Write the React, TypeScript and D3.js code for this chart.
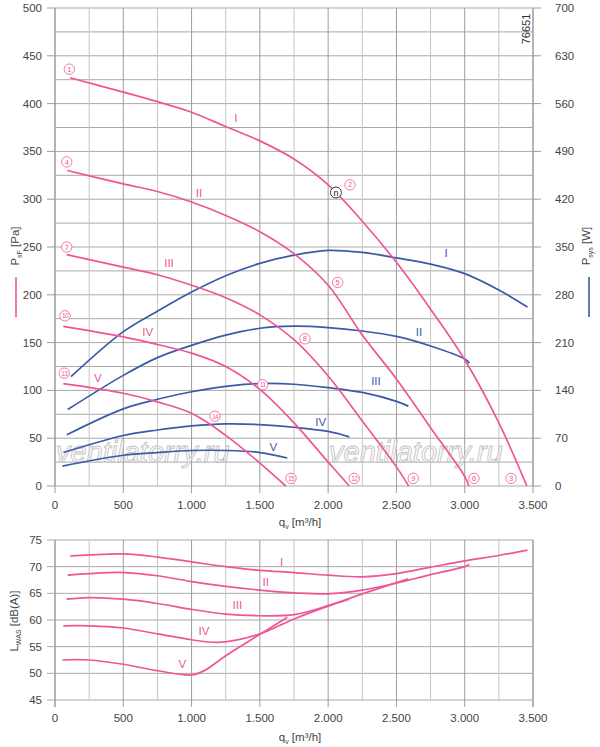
import React from 'react';
import * as d3 from 'd3';

// ---------- DATA ----------
const qTicks = [0, 500, 1000, 1500, 2000, 2500, 3000, 3500];
const pTicks = [0, 50, 100, 150, 200, 250, 300, 350, 400, 450, 500];
const wTicks = [0, 70, 140, 210, 280, 350, 420, 490, 560, 630, 700];
const lTicks = [45, 50, 55, 60, 65, 70, 75];

// pressure curves [q m3/h, Pa]
const pressureI = [[110, 427], [500, 412], [750, 402], [1000, 391], [1250, 376], [1500, 361], [1750, 342], [2000, 315], [2250, 277], [2500, 234], [2750, 185], [3000, 132], [3250, 66], [3455, 0]];
const pressureII = [[90, 330], [500, 316], [750, 308], [1000, 297], [1250, 283], [1500, 266], [1750, 243], [2000, 210], [2250, 158], [2500, 112], [2750, 61], [3000, 10], [3030, 0]];
const pressureIII = [[85, 242], [500, 229], [750, 221], [1000, 210], [1250, 197], [1500, 179], [1750, 153], [2000, 115], [2250, 68], [2500, 20], [2590, 0]];
const pressureIV = [[61, 167], [500, 156], [750, 148], [1000, 139], [1250, 125], [1500, 101], [1750, 66], [2000, 25], [2155, 0]];
const pressureV = [[61, 107], [500, 97], [750, 88], [1000, 76], [1250, 53], [1500, 24], [1690, 0]];

// power curves [q m3/h, W]
const powerI = [[117, 160], [500, 226], [750, 256], [1000, 284], [1250, 308], [1500, 326], [1750, 338], [2000, 345], [2250, 342], [2500, 334], [2750, 325], [3000, 311], [3250, 287], [3460, 262]];
const powerII = [[93, 112], [500, 162], [750, 188], [1000, 206], [1250, 221], [1500, 231], [1750, 234], [2000, 232], [2250, 227], [2500, 219], [2750, 205], [3000, 186], [3034, 180]];
const powerIII = [[86, 75], [500, 113], [750, 127], [1000, 138], [1250, 146], [1500, 150], [1750, 149], [2000, 144], [2250, 137], [2500, 124], [2587, 117]];
const powerIV = [[61, 49], [500, 74], [750, 82], [1000, 88], [1250, 91], [1500, 90], [1750, 86], [2000, 80], [2155, 72]];
const powerV = [[54, 29], [500, 45], [750, 49], [1000, 52], [1250, 52], [1500, 49], [1701, 41]];

// sound power curves [q m3/h, dB(A)]
const soundI = [[110, 72.0], [250, 72.2], [500, 72.4], [750, 71.8], [1000, 70.9], [1250, 70.0], [1500, 69.3], [1750, 68.9], [2000, 68.4], [2250, 68.1], [2500, 68.7], [2750, 69.9], [3000, 71.1], [3250, 72.1], [3460, 73.1]];
const soundII = [[93, 68.4], [250, 68.7], [500, 68.9], [750, 68.3], [1000, 67.2], [1250, 66.3], [1500, 65.6], [1750, 65.1], [2000, 64.9], [2250, 65.6], [2500, 66.9], [2750, 68.5], [3000, 70.0], [3034, 70.4]];
const soundIII = [[85, 63.9], [250, 64.2], [500, 63.9], [750, 63.1], [1000, 62.0], [1250, 61.1], [1500, 60.8], [1750, 61.0], [2000, 62.7], [2250, 64.9], [2500, 67.0], [2587, 67.7]];
const soundIV = [[61, 58.9], [250, 58.9], [500, 58.5], [750, 57.4], [1000, 56.3], [1200, 55.8], [1500, 57.4], [1750, 60.2], [2000, 62.6], [2155, 63.9]];
const soundV = [[54, 52.5], [250, 52.5], [500, 51.7], [750, 50.5], [1000, 49.7], [1100, 50.6], [1250, 53.3], [1500, 57.3], [1701, 60.5]];

// numbered operating point markers [number, q, Pa]
const markers = [[1, 105, 436], [2, 2160, 315], [3, 3339, 8], [4, 86, 339], [5, 2070, 213], [6, 3068, 8], [7, 86, 250], [8, 1830, 154], [9, 2623, 8], [10, 73, 178], [11, 1521, 106], [12, 2191, 8], [13, 68, 118], [14, 1171, 73], [15, 1728, 8]];

// roman curve labels [text, q, value]
const pressureLabels = [['I', 1325, 385], ['II', 1054, 307], ['III', 835, 233], ['IV', 679, 161], ['V', 313, 113]];
const powerLabels = [['I', 2863, 244], ['II', 2665, 161], ['III', 2350, 110], ['IV', 1945, 67], ['V', 1599, 41]];
const soundLabels = [['I', 1660, 70.9], ['II', 1543, 67.1], ['III', 1335, 62.8], ['IV', 1091, 57.9], ['V', 932, 51.75]];
const nPoint = [2057, 307];

const PINK = '#ef5597';
const BLUE = '#3a5ba6';
const TXT = '#444';
const FONT = "'Liberation Sans', Arial, Helvetica, sans-serif";

const fmtQ = (v: number) => (v >= 1000 ? `${Math.floor(v / 1000)}.${String(v % 1000).padStart(3, '0')}` : `${v}`);

export default function App() {
  const x = d3.scaleLinear().domain([0, 3500]).range([55, 533]);
  const yP = d3.scaleLinear().domain([0, 500]).range([486, 8]);
  const yW = d3.scaleLinear().domain([0, 700]).range([486, 8]);
  const yL = d3.scaleLinear().domain([45, 75]).range([700, 540]);

  const curve = d3.curveCatmullRom.alpha(0.5);
  const lineP = d3.line<number[]>().x((d) => x(d[0])).y((d) => yP(d[1])).curve(curve);
  const lineW = d3.line<number[]>().x((d) => x(d[0])).y((d) => yW(d[1])).curve(curve);
  const lineL = d3.line<number[]>().x((d) => x(d[0])).y((d) => yL(d[1])).curve(curve);

  const qGrid = d3.range(0, 3501, 250);
  const pGrid = d3.range(0, 501, 25);

  const vColor = (q: number) => (q % 500 === 0 ? '#9c9c9c' : '#c6c6c6');

  return (
    <svg width={600} height={747} style={{ position: 'absolute', left: 0, top: 0, background: '#fff' }} fontFamily={FONT}>
      <rect x={0} y={0} width={600} height={747} fill="#fff" />
      {/* ---------- TOP CHART GRID ---------- */}
      {pGrid.map((p) => (
        <line key={'hp' + p} x1={x(0)} x2={x(3500)} y1={yP(p)} y2={yP(p)} stroke="#a9a9a9" strokeWidth={1} />
      ))}
      {qGrid.map((q) => (
        <line key={'vq' + q} x1={x(q)} x2={x(q)} y1={yP(500)} y2={yP(0)} stroke={vColor(q)} strokeWidth={1} />
      ))}
      <line x1={x(0)} x2={x(0)} y1={yP(500)} y2={yP(0)} stroke="#9c9c9c" />
      <line x1={x(3500)} x2={x(3500)} y1={yP(500)} y2={yP(0)} stroke="#9c9c9c" />
      {pTicks.map((p) => (
        <g key={'tp' + p}>
          <line x1={x(0) - 8} x2={x(0)} y1={yP(p)} y2={yP(p)} stroke="#9c9c9c" />
          <line x1={x(3500)} x2={x(3500) + 8} y1={yP(p)} y2={yP(p)} stroke="#9c9c9c" />
          <text x={42} y={yP(p) + 4} textAnchor="end" fontSize={11.5} fill={TXT}>{p}</text>
        </g>
      ))}
      {wTicks.map((w) => (
        <text key={'tw' + w} x={555} y={yW(w) + 4} fontSize={11.5} fill={TXT}>{w}</text>
      ))}
      {qTicks.map((q) => (
        <g key={'tq' + q}>
          <line x1={x(q)} x2={x(q)} y1={yP(0)} y2={yP(0) + 7} stroke="#9c9c9c" />
          <text x={x(q)} y={509} textAnchor="middle" fontSize={11.5} fill={TXT}>{fmtQ(q)}</text>
        </g>
      ))}
      <text x={300} y={526} textAnchor="middle" fontSize={11.5} fill={TXT}>
        q<tspan fontSize={7} dy={3}>v</tspan><tspan dy={-3}> [m³/h]</tspan>
      </text>

      {/* axis titles */}
      <text transform="translate(18.5,246) rotate(-90)" textAnchor="middle" fontSize={11.5} fill={TXT}>
        P<tspan fontSize={7} dy={3}>sF</tspan><tspan dy={-3}> [Pa]</tspan>
      </text>
      <line x1={16} x2={16} y1={277} y2={317} stroke={PINK} strokeWidth={1.6} />
      <text transform="translate(590,246) rotate(-90)" textAnchor="middle" fontSize={11.5} fill={TXT}>
        P<tspan fontSize={7} dy={3}>sys</tspan><tspan dy={-3}> [W]</tspan>
      </text>
      <line x1={589} x2={589} y1={277} y2={317} stroke={BLUE} strokeWidth={1.6} />
      <text transform="translate(530,29) rotate(-90)" textAnchor="middle" fontSize={11} fill="#333">76651</text>

      {/* watermark */}
      <text x={56} y={462} fontSize={29} fontStyle="italic" fill="#ffffff" fillOpacity={0.55} stroke="#c4c4c4" strokeWidth={0.9}>ventilatorry.ru</text>
      <text x={329} y={462} fontSize={29} fontStyle="italic" fill="#ffffff" fillOpacity={0.55} stroke="#c4c4c4" strokeWidth={0.9}>ventilatorry.ru</text>

      {/* power curves */}
      {[powerI, powerII, powerIII, powerIV, powerV].map((c, i) => (
        <path key={'pw' + i} d={lineW(c) || ''} fill="none" stroke={BLUE} strokeWidth={1.7} />
      ))}
      {/* pressure curves */}
      {[pressureI, pressureII, pressureIII, pressureIV, pressureV].map((c, i) => (
        <path key={'pp' + i} d={lineP(c) || ''} fill="none" stroke={PINK} strokeWidth={1.7} />
      ))}

      {/* labels */}
      {pressureLabels.map(([t, q, v]) => (
        <text key={'pl' + t} x={x(q as number)} y={yP(v as number) + 4} textAnchor="middle" fontSize={11.5} fill={PINK}>{t}</text>
      ))}
      {powerLabels.map(([t, q, v]) => (
        <text key={'wl' + t} x={x(q as number)} y={yP(v as number) + 4} textAnchor="middle" fontSize={11.5} fill={BLUE}>{t}</text>
      ))}
      {markers.map(([n, q, v]) => (
        <g key={'mk' + n}>
          <circle cx={x(q)} cy={yP(v)} r={5.2} fill="#fff" stroke={PINK} strokeWidth={0.8} />
          <text x={x(q)} y={yP(v) + 2.6} textAnchor="middle" fontSize={n >= 10 ? 6.5 : 7.5} letterSpacing={n >= 10 ? -0.6 : 0} fill={PINK}>{n}</text>
        </g>
      ))}
      <circle cx={x(nPoint[0])} cy={yP(nPoint[1])} r={5.5} fill="#fff" stroke="#222" strokeWidth={0.9} />
      <text x={x(nPoint[0])} y={yP(nPoint[1]) + 3} textAnchor="middle" fontSize={9} fill="#222">n</text>

      {/* ---------- BOTTOM CHART ---------- */}
      {lTicks.map((l) => (
        <g key={'hl' + l}>
          <line x1={x(0) - 8} x2={x(3500)} y1={yL(l)} y2={yL(l)} stroke="#a9a9a9" />
          <text x={42} y={yL(l) + 4} textAnchor="end" fontSize={11.5} fill={TXT}>{l}</text>
        </g>
      ))}
      {qGrid.map((q) => (
        <line key={'vl' + q} x1={x(q)} x2={x(q)} y1={yL(75)} y2={yL(45) + (q % 500 === 0 ? 7 : 0)} stroke={vColor(q)} />
      ))}
      <line x1={x(0)} x2={x(0)} y1={yL(75)} y2={yL(45) + 7} stroke="#9c9c9c" />
      <line x1={x(3500)} x2={x(3500)} y1={yL(75)} y2={yL(45) + 7} stroke="#9c9c9c" />
      {qTicks.map((q) => (
        <text key={'lq' + q} x={x(q)} y={722} textAnchor="middle" fontSize={11.5} fill={TXT}>{fmtQ(q)}</text>
      ))}
      <text x={300} y={741} textAnchor="middle" fontSize={11.5} fill={TXT}>
        q<tspan fontSize={7} dy={3}>v</tspan><tspan dy={-3}> [m³/h]</tspan>
      </text>
      <text transform="translate(18,621) rotate(-90)" textAnchor="middle" fontSize={11.5} fill={TXT}>
        L<tspan fontSize={7} dy={3}>WAS</tspan><tspan dy={-3}> [dB(A)]</tspan>
      </text>
      {[soundI, soundII, soundIII, soundIV, soundV].map((c, i) => (
        <path key={'sl' + i} d={lineL(c) || ''} fill="none" stroke={PINK} strokeWidth={1.7} />
      ))}
      {soundLabels.map(([t, q, v]) => (
        <text key={'sll' + t} x={x(q as number)} y={yL(v as number) + 4} textAnchor="middle" fontSize={11.5} fill={PINK}>{t}</text>
      ))}
    </svg>
  );
}
